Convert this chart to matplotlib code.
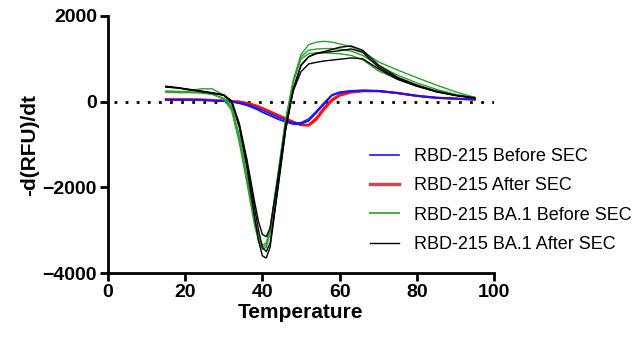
import matplotlib
matplotlib.use('Agg')
import matplotlib.pyplot as plt

plt.rcParams['font.family'] = ['Liberation Sans', 'DejaVu Sans']

# temperature grid (deg C) shared by all melt-curve replicates
temp = [15, 18, 21, 24, 27, 30, 32, 34, 36, 38, 39, 40, 41, 42, 44, 46, 48, 50,
        52, 54, 56, 58, 60, 63, 66, 70, 75, 80, 85, 90, 95]

blue_reps = [
    [40, 40, 38, 35, 25, 10, 0, -20, -60, -120, -160, -200, -240, -280, -360, -430, -490, -500,
     -440, -260, -60, 140, 200, 240, 255, 245, 195, 130, 90, 70, 50],
    [45, 45, 42, 38, 28, 12, 0, -30, -80, -150, -190, -240, -280, -320, -400, -470, -530, -530,
     -450, -250, -40, 150, 215, 250, 262, 252, 200, 135, 92, 72, 55],
    [35, 35, 33, 30, 20, 5, -10, -40, -90, -160, -200, -250, -290, -330, -410, -470, -500, -490,
     -400, -220, -20, 160, 225, 258, 268, 258, 205, 140, 95, 75, 58],
]
red_reps = [
    [55, 55, 50, 45, 35, 20, 10, 0, -30, -80, -110, -150, -190, -230, -310, -390, -470, -540,
     -560, -420, -180, 20, 140, 215, 245, 245, 200, 135, 90, 68, 50],
    [60, 58, 55, 50, 38, 22, 10, -5, -40, -90, -120, -160, -200, -240, -320, -400, -480, -550,
     -540, -380, -140, 50, 160, 225, 250, 250, 205, 138, 92, 70, 50],
]
green_reps = [
    [230, 220, 250, 300, 300, 150, -100, -800, -1750, -2750, -3150, -3400, -3350, -3000, -1750,
     -450, 500, 1100, 1330, 1390, 1410, 1390, 1350, 1280, 1170, 930, 740, 560, 390, 230, 100],
    [220, 210, 210, 200, 170, 60, -200, -950, -1900, -2900, -3250, -3450, -3400, -3050, -1800,
     -500, 450, 1000, 1120, 1140, 1140, 1130, 1120, 1080, 980, 720, 530, 370, 230, 150, 100],
    [250, 240, 230, 220, 180, 80, -150, -850, -1800, -2800, -3150, -3350, -3300, -2950, -1700,
     -420, 480, 1050, 1200, 1230, 1240, 1240, 1230, 1180, 1080, 850, 620, 440, 290, 170, 100],
]
black_reps = [
    [360, 330, 290, 250, 210, 160, 20, -550, -1450, -2500, -3000, -3400, -3500, -3300, -2000,
     -650, 300, 850, 1050, 1130, 1170, 1220, 1270, 1300, 1200, 860, 570, 390, 250, 150, 90],
    [350, 320, 280, 240, 200, 150, 0, -600, -1550, -2700, -3250, -3600, -3650, -3400, -2050,
     -680, 280, 850, 1050, 1120, 1150, 1170, 1190, 1230, 1150, 810, 540, 370, 235, 145, 85],
    [340, 320, 280, 240, 200, 150, 20, -500, -1350, -2350, -2800, -3100, -3150, -2950, -1800,
     -550, 250, 700, 880, 920, 950, 970, 990, 1020, 1000, 770, 520, 360, 235, 145, 85],
]

labels = ['RBD-215 Before SEC', 'RBD-215 After SEC',
          'RBD-215 BA.1 Before SEC', 'RBD-215 BA.1 After SEC']

fig = plt.figure(figsize=(6.37, 3.47), dpi=100)
ax = fig.add_axes([108 / 637, 1 - 273 / 347, (494 - 108) / 637, (273 - 16) / 347])

ax.axhline(0, color='black', lw=2, ls=(0, (1, 3)), xmin=0.015, zorder=1)

for r in red_reps:
    ax.plot(temp, r, color='#ff1010', lw=1.6)
for r in blue_reps:
    ax.plot(temp, r, color='#1515ff', lw=1.0)
for r in green_reps:
    ax.plot(temp, r, color='#2ca02c', lw=1.0)
for r in black_reps:
    ax.plot(temp, r, color='black', lw=1.0)

handles = [
    plt.Line2D([], [], color='#1515ff', lw=1.2),
    plt.Line2D([], [], color='#c0504d', lw=2.5),
    plt.Line2D([], [], color='#4caf50', lw=1.5),
    plt.Line2D([], [], color='black', lw=1.0),
]
fig.legend(handles, labels, loc='center left', bbox_to_anchor=(370 / 637, 1 - 200.5 / 347),
           frameon=False, fontsize=13, handlelength=1.6, handletextpad=0.85,
           labelspacing=0.68, borderpad=0, borderaxespad=0)

ax.set_xlim(0, 100)
ax.set_ylim(-4000, 2000)
ax.set_xticks([0, 20, 40, 60, 80, 100])
ax.set_yticks([-4000, -2000, 0, 2000])
for s in ['top', 'right']:
    ax.spines[s].set_visible(False)
for s in ['left', 'bottom']:
    ax.spines[s].set_linewidth(2)
ax.tick_params(width=2, length=6, labelsize=14, direction='out', pad=2)
for lab in ax.get_xticklabels() + ax.get_yticklabels():
    lab.set_fontweight('bold')
ax.set_xlabel('Temperature', fontsize=15, fontweight='bold', labelpad=1)
ax.set_ylabel('-d(RFU)/dt', fontsize=15, fontweight='bold', labelpad=2)

fig.savefig('out.png', dpi=100)
